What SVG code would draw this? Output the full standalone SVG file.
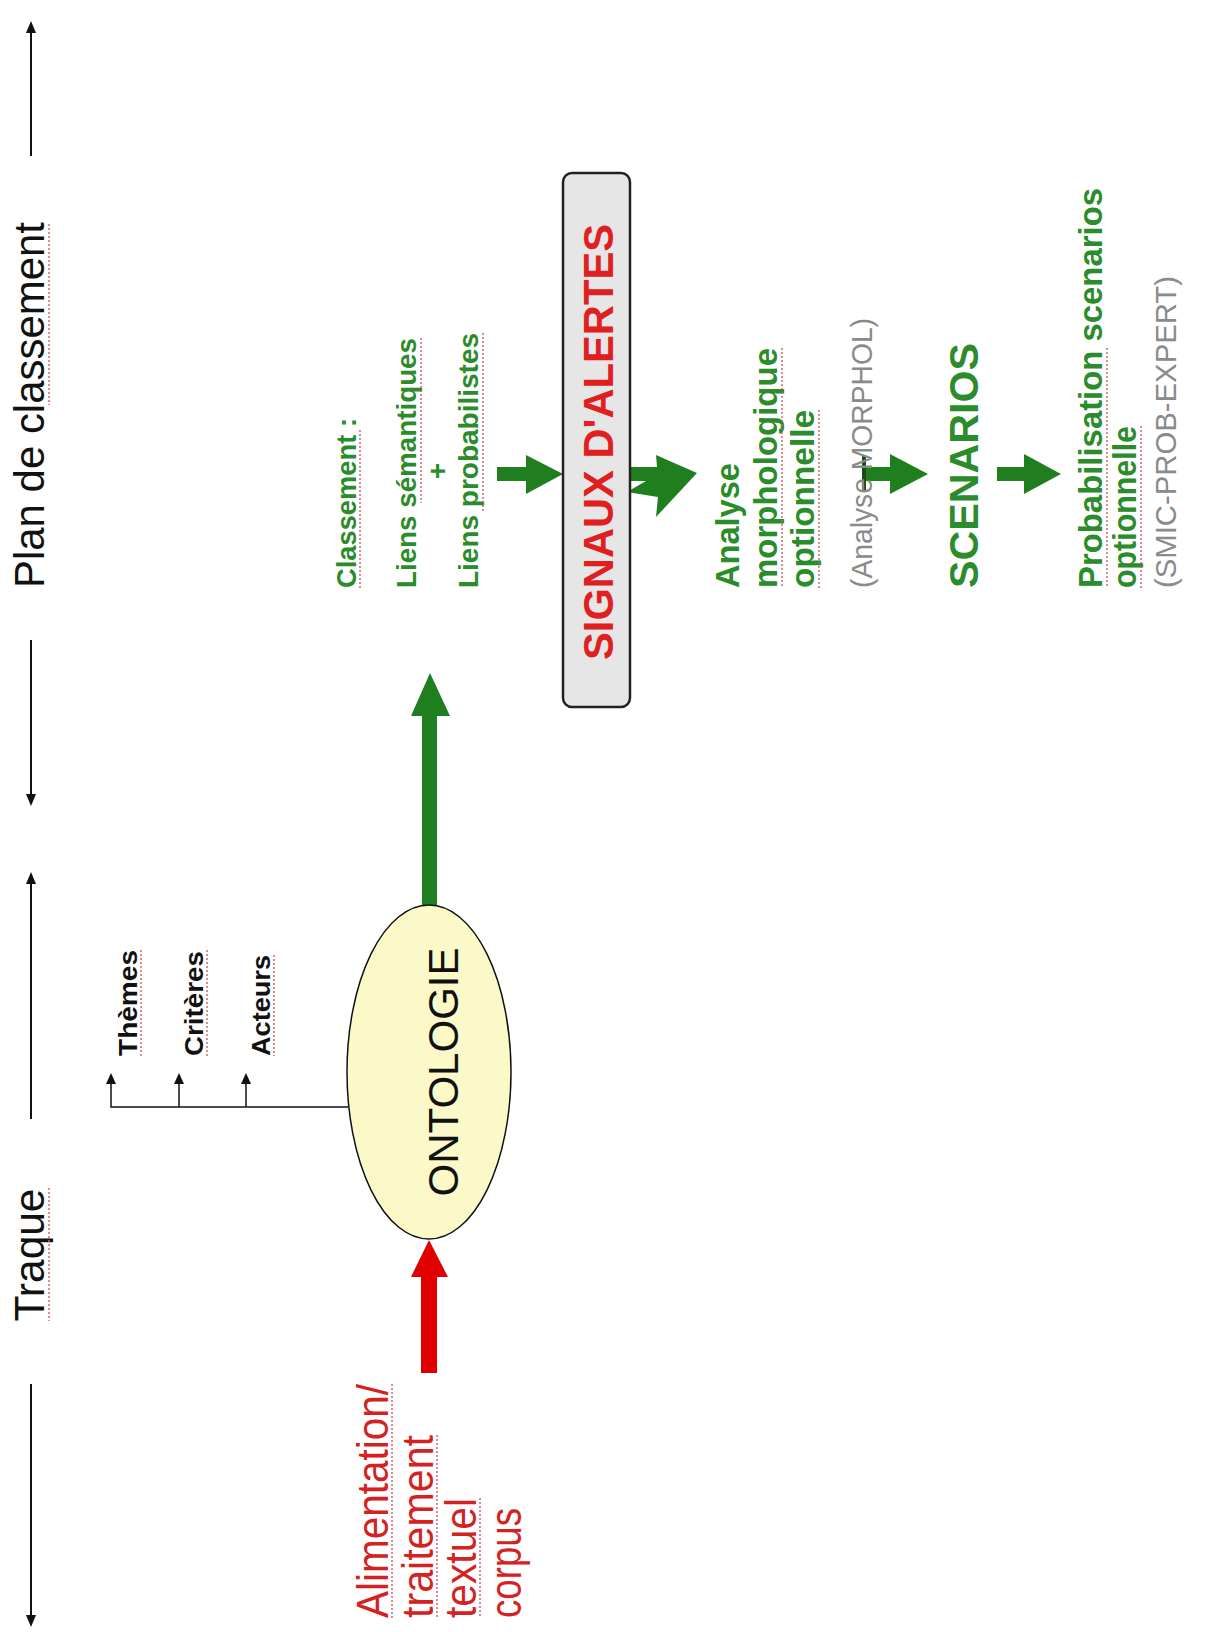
<svg xmlns="http://www.w3.org/2000/svg" width="1207" height="1632" viewBox="0 0 1207 1632">
<defs>
<style>
text{font-family:"Liberation Sans",Arial,sans-serif}
.axis{stroke:#111;stroke-width:2;fill:none}
.ah{fill:#111}
.ttl{font-size:42px;fill:#111}
.blk{font-size:25px;font-weight:bold;fill:#111}
.g{font-size:28px;font-weight:bold;fill:#2a8c2a}
.g2{font-size:33px;font-weight:bold;fill:#2a8c2a}
.gray{font-size:29px;fill:#8a8a8a}
.red{font-size:44px;fill:#d42222}
.garrow{fill:#1f7f1f}
.thin{stroke:#111;stroke-width:1.5;fill:none}
.sq{stroke:#d65a5a;stroke-width:1.4;stroke-dasharray:2 2;fill:none}
</style>
</defs>
<rect width="1207" height="1632" fill="#ffffff"/>

<g id="axis">
<line class="axis" x1="31" y1="30" x2="31" y2="156"/>
<polygon class="ah" points="31,21 26,33 36,33"/>
<line class="axis" x1="31" y1="640" x2="31" y2="796"/>
<polygon class="ah" points="31,806 26,794 36,794"/>
<line class="axis" x1="31" y1="882" x2="31" y2="1119"/>
<polygon class="ah" points="31,872 26,884 36,884"/>
<line class="axis" x1="31" y1="1384" x2="31" y2="1617"/>
<polygon class="ah" points="31,1627 26,1615 36,1615"/>
<text class="ttl" text-anchor="middle" transform="translate(44,405) rotate(-90)" textLength="366" lengthAdjust="spacingAndGlyphs">Plan de classement</text>
<text class="ttl" text-anchor="middle" transform="translate(44,1255) rotate(-90)" textLength="133" lengthAdjust="spacingAndGlyphs">Traque</text>
</g>

<g id="connectors">
<polyline class="thin" points="348,1107 111,1107 111,1082"/>
<line class="thin" x1="179" y1="1107" x2="179" y2="1082"/>
<line class="thin" x1="246" y1="1107" x2="246" y2="1082"/>
<polygon class="ah" points="111,1073 106,1084 116,1084"/>
<polygon class="ah" points="179,1073 174,1084 184,1084"/>
<polygon class="ah" points="246,1073 241,1084 251,1084"/>
<polygon fill="#e00000" points="421,1373 421,1277 411,1277 429,1240 448,1277 437,1277 437,1373"/>
<polygon class="garrow" points="422,905 422,716 411,716 430,673 450,716 437,716 437,905"/>
<polygon class="garrow" points="497,467 526,467 526,455 563,474 526,494 526,481 497,481"/>
<polygon class="garrow" points="631,467 657,467 656,455 697,473 656,517 658,497 627,492 646,481 631,481"/>
<polygon class="garrow" points="865,467 890,467 890,454 928,474 890,494 890,481 865,481"/>
<rect x="862" y="455" width="4" height="37" fill="#1a4a1a"/>
<polygon class="garrow" points="997,467 1024,467 1024,454 1061,474 1024,494 1024,481 997,481"/>
</g>

<g id="ontologie">
<ellipse cx="429" cy="1072" rx="82" ry="167" fill="#fbf9c8" stroke="#111" stroke-width="1.5"/>
<text class="ttl" text-anchor="middle" transform="translate(458,1072) rotate(-90)" textLength="249" lengthAdjust="spacingAndGlyphs">ONTOLOGIE</text>
</g>

<g id="themes"><text class="blk" transform="translate(137,1056) rotate(-90)" textLength="106" lengthAdjust="spacingAndGlyphs">Thèmes</text></g>
<g id="criteres"><text class="blk" transform="translate(203,1056) rotate(-90)" textLength="105" lengthAdjust="spacingAndGlyphs">Critères</text></g>
<g id="acteurs"><text class="blk" transform="translate(270,1056) rotate(-90)" textLength="101" lengthAdjust="spacingAndGlyphs">Acteurs</text></g>

<g id="alimentation">
<text class="red" transform="translate(388,1618) rotate(-90)" textLength="234" lengthAdjust="spacingAndGlyphs">Alimentation/</text>
<text class="red" transform="translate(433,1618) rotate(-90)" textLength="183" lengthAdjust="spacingAndGlyphs">traitement</text>
<text class="red" transform="translate(476,1618) rotate(-90)" textLength="120" lengthAdjust="spacingAndGlyphs">textuel</text>
<text class="red" transform="translate(521,1618) rotate(-90)" textLength="110" lengthAdjust="spacingAndGlyphs">corpus</text>
</g>

<g id="classement">
<text class="g" transform="translate(356,588) rotate(-90)" textLength="170" lengthAdjust="spacingAndGlyphs">Classement :</text>
<text class="g" transform="translate(416,588) rotate(-90)" textLength="250" lengthAdjust="spacingAndGlyphs">Liens sémantiques</text>
<text class="g" text-anchor="middle" transform="translate(447,471) rotate(-90)">+</text>
<text class="g" transform="translate(478,588) rotate(-90)" textLength="255" lengthAdjust="spacingAndGlyphs">Liens probabilistes</text>
</g>

<g id="signaux">
<rect x="563" y="173" width="67" height="534" rx="9" fill="#e6e6e6" stroke="#222" stroke-width="2.5"/>
<text class="red" font-weight="bold" style="font-size:42px;fill:#e02020" text-anchor="middle" transform="translate(613,442) rotate(-90)" textLength="436" lengthAdjust="spacingAndGlyphs">SIGNAUX D'ALERTES</text>
</g>

<g id="analyse">
<text class="g2" transform="translate(739,588) rotate(-90)" textLength="125" lengthAdjust="spacingAndGlyphs">Analyse</text>
<text class="g2" transform="translate(777,588) rotate(-90)" textLength="240" lengthAdjust="spacingAndGlyphs">morphologique</text>
<text class="g2" transform="translate(814,588) rotate(-90)" textLength="178" lengthAdjust="spacingAndGlyphs">optionnelle</text>
<text class="gray" transform="translate(872,588) rotate(-90)" textLength="270" lengthAdjust="spacingAndGlyphs">(Analyse MORPHOL)</text>
</g>

<g id="scenarios">
<text class="g2" style="font-size:41px" transform="translate(978,588) rotate(-90)" textLength="245" lengthAdjust="spacingAndGlyphs">SCENARIOS</text>
</g>

<g id="probabilisation">
<text class="g2" transform="translate(1102,588) rotate(-90)" textLength="400" lengthAdjust="spacingAndGlyphs">Probabilisation scenarios</text>
<text class="g2" transform="translate(1136,588) rotate(-90)" textLength="162" lengthAdjust="spacingAndGlyphs">optionnelle</text>
<text class="gray" transform="translate(1176,588) rotate(-90)" textLength="312" lengthAdjust="spacingAndGlyphs">(SMIC-PROB-EXPERT)</text>
</g>

<g id="spellcheck">
<line class="sq" x1="49" y1="224" x2="49" y2="405"/>
<line class="sq" x1="49" y1="1188" x2="49" y2="1321"/>
<line class="sq" x1="141" y1="950" x2="141" y2="1056"/>
<line class="sq" x1="207" y1="950" x2="207" y2="1056"/>
<line class="sq" x1="274" y1="955" x2="274" y2="1056"/>
<line class="sq" x1="392" y1="1384" x2="392" y2="1618"/>
<line class="sq" x1="437" y1="1435" x2="437" y2="1618"/>
<line class="sq" x1="480" y1="1498" x2="480" y2="1618"/>
<line class="sq" x1="360" y1="430" x2="360" y2="588"/>
<line class="sq" x1="421" y1="338" x2="421" y2="503"/>
<line class="sq" x1="483" y1="333" x2="483" y2="513"/>
<line class="sq" x1="782" y1="348" x2="782" y2="588"/>
<line class="sq" x1="819" y1="410" x2="819" y2="588"/>
<line class="sq" x1="1107" y1="348" x2="1107" y2="588"/>
<line class="sq" x1="1141" y1="426" x2="1141" y2="588"/>
</g>
</svg>
